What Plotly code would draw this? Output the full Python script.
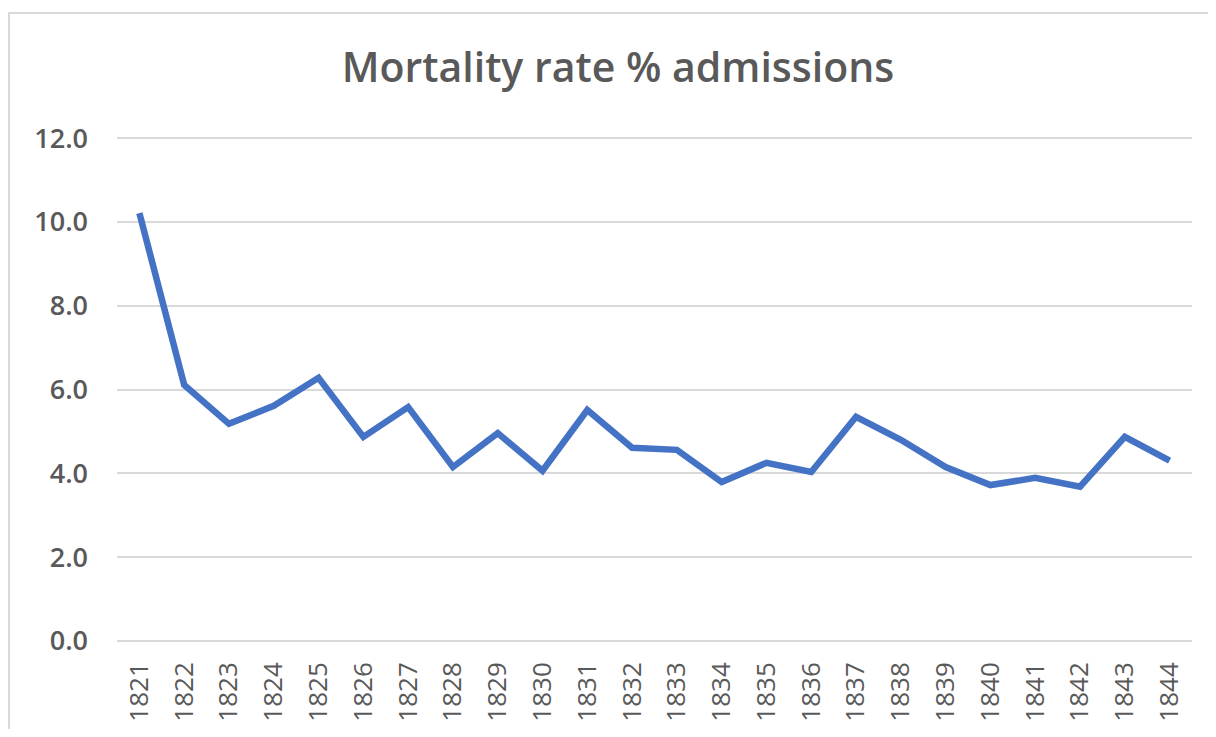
import plotly.graph_objects as go

years = [str(y) for y in range(1821, 1845)]
mortality = [10.21, 6.11, 5.18, 5.61, 6.28, 4.87, 5.58, 4.15, 4.96, 4.06, 5.51, 4.61,
             4.56, 3.79, 4.25, 4.03, 5.35, 4.80, 4.15, 3.72, 3.89, 3.68, 4.87, 4.30]
y_ticks = [0, 2, 4, 6, 8, 10, 12]
y_tick_labels = [f"{v:.1f}" for v in y_ticks]

fig = go.Figure()
fig.add_trace(go.Scatter(
    x=years, y=mortality, mode="lines",
    line=dict(color="#4472C4", width=6.5),
    showlegend=False,
))

# page body has an 8px margin; figure sized/placed to compensate
W, H = 1200, 721
L, R, T, B = 109, 16, 128, 86
pw, ph = W - L - R, H - T - B

fig.update_layout(
    width=W, height=H,
    margin=dict(l=L, r=R, t=T, b=B),
    paper_bgcolor="white", plot_bgcolor="white",
    title=dict(text="Mortality rate % admissions", x=(610 - L) / pw, xref="paper",
               xanchor="center", y=1 - 60 / H, yanchor="middle",
               font=dict(family="Open Sans", size=41, color="#595959", weight=600)),
    font=dict(family="Open Sans", color="#595959"),
    xaxis=dict(type="category", range=[-0.5, 23.5], tickangle=-90, automargin=False,
               showgrid=False, zeroline=False, showline=False, ticks="",
               tickfont=dict(family="Open Sans", size=26, color="#595959", weight=500),
               ticklabelstandoff=13),
    yaxis=dict(range=[-0.05, 12.05], tickvals=y_ticks, ticktext=y_tick_labels,
               automargin=False,
               showgrid=True, gridcolor="#d9d9d9", gridwidth=2,
               zeroline=False, showline=False, ticks="",
               tickfont=dict(family="Open Sans", size=27, color="#595959", weight=600),
               ticklabelstandoff=28),
    shapes=[dict(type="rect", xref="paper", yref="paper",
                 x0=(1 - L) / pw, x1=(W + 10 - L) / pw,
                 y0=-(B + 10) / ph, y1=(H - B - 5) / ph,
                 line=dict(color="#d9d9d9", width=2), fillcolor="rgba(0,0,0,0)", layer="below")],
)

fig.write_html("out.html")
